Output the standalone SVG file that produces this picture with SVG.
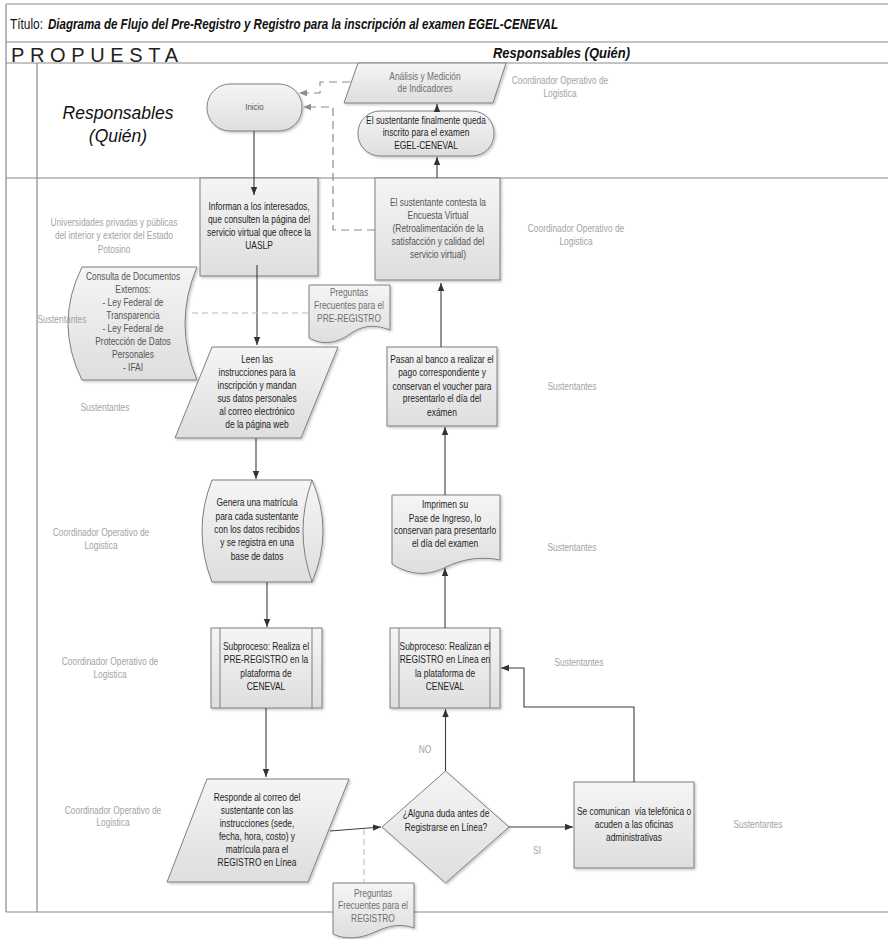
<svg xmlns="http://www.w3.org/2000/svg" width="888" height="939" viewBox="0 0 888 939">
<style>
  text{font-family:"Liberation Sans",Arial,sans-serif;font-size:10px;text-anchor:middle}
  .frame{stroke:#8a8a8a;stroke-width:1.2;fill:none}
  .shape{fill:url(#gf);stroke:#7f7f7f;stroke-width:1;filter:url(#sh)}
  .inner{stroke:#7f7f7f;stroke-width:1;fill:none}
  .dk{fill:#1e1e1e}
  .md{fill:#555}
  .lt{fill:#6e6e6e}
  .lbl{fill:#a3a3a3}
  .con{fill:none;stroke:#3d3d3d;stroke-width:1.1;marker-end:url(#ah)}
  .dsh{fill:none;stroke:#8c8c8c;stroke-width:1.2;stroke-dasharray:8 5;marker-end:url(#ahg)}
  .ldsh{fill:none;stroke:#b8b8b8;stroke-width:1;stroke-dasharray:6 4}
</style>
<defs>
  <linearGradient id="gf" x1="0" y1="0" x2="0" y2="1">
    <stop offset="0" stop-color="#f5f5f5"/>
    <stop offset="1" stop-color="#dedede"/>
  </linearGradient>
  <filter id="sh" x="-10%" y="-10%" width="130%" height="130%">
    <feDropShadow dx="1.5" dy="1.5" stdDeviation="1" flood-color="#000" flood-opacity="0.22"/>
  </filter>
  <marker id="ah" viewBox="0 0 10 10" refX="10" refY="5" markerWidth="8" markerHeight="8" markerUnits="userSpaceOnUse" orient="auto">
    <path d="M0,1 L10,5 L0,9 Z" fill="#333"/>
  </marker>
  <marker id="ahg" viewBox="0 0 10 10" refX="10" refY="5" markerWidth="8" markerHeight="8" markerUnits="userSpaceOnUse" orient="auto">
    <path d="M0,1 L10,5 L0,9 Z" fill="#8c8c8c"/>
  </marker>
</defs>
<rect width="888" height="939" fill="#fff"/>

<!-- frame / swimlanes -->
<g id="frame">
  <path class="frame" d="M6,4 H888 M6,4 V912 M6,42 H888 M6,63 H888 M37,63 V912 M6,178 H888 M6,912 H888"/>
  <text x="10" y="29" textLength="33" lengthAdjust="spacingAndGlyphs" style="text-anchor:start;font-size:14px" fill="#111">Título:</text>
  <text x="48" y="29" textLength="510" lengthAdjust="spacingAndGlyphs" style="text-anchor:start;font-size:14px;font-weight:bold;font-style:italic" fill="#111">Diagrama de Flujo del Pre-Registro y Registro para la inscripción al examen EGEL-CENEVAL</text>
  <text x="11" y="62" textLength="167" lengthAdjust="spacing" style="text-anchor:start;font-size:20px" fill="#222">PROPUESTA</text>
  <text x="493" y="58" textLength="137" lengthAdjust="spacingAndGlyphs" style="text-anchor:start;font-size:14px;font-weight:bold;font-style:italic" fill="#111">Responsables (Quién)</text>
  <text x="118" y="119" style="font-size:17.5px;font-style:italic" fill="#111">Responsables</text>
  <text x="118" y="142" style="font-size:17.5px;font-style:italic" fill="#111">(Quién)</text>
</g>

<!-- lane labels -->
<g id="labels" class="lbl">
  <g transform="translate(560 0) scale(.84 1)"><text class="lbl"><tspan x="0" y="84.5">Coordinador Operativo de</tspan><tspan x="0" y="97.5">Logistica</tspan></text></g>
  <g transform="translate(576 0) scale(.84 1)"><text class="lbl"><tspan x="0" y="232.5">Coordinador Operativo de</tspan><tspan x="0" y="245.5">Logistica</tspan></text></g>
  <g transform="translate(114 0) scale(.84 1)"><text class="lbl"><tspan x="0" y="226.5">Universidades privadas y públicas</tspan><tspan x="0" y="239.5">del interior y exterior del Estado</tspan><tspan x="0" y="253.5">Potosino</tspan></text></g>
  <g transform="translate(105 0) scale(.84 1)"><text class="lbl"><tspan x="0" y="411.5">Sustentantes</tspan></text></g>
  <g transform="translate(572 0) scale(.84 1)"><text class="lbl"><tspan x="0" y="390.5">Sustentantes</tspan></text></g>
  <g transform="translate(101 0) scale(.84 1)"><text class="lbl"><tspan x="0" y="536.5">Coordinador Operativo de</tspan><tspan x="0" y="549.5">Logistica</tspan></text></g>
  <g transform="translate(572 0) scale(.84 1)"><text class="lbl"><tspan x="0" y="551.5">Sustentantes</tspan></text></g>
  <g transform="translate(110 0) scale(.84 1)"><text class="lbl"><tspan x="0" y="665.5">Coordinador Operativo de</tspan><tspan x="0" y="678.5">Logistica</tspan></text></g>
  <g transform="translate(579 0) scale(.84 1)"><text class="lbl"><tspan x="0" y="666.5">Sustentantes</tspan></text></g>
  <g transform="translate(113 0) scale(.84 1)"><text class="lbl"><tspan x="0" y="814.5">Coordinador Operativo de</tspan><tspan x="0" y="826.5">Logistica</tspan></text></g>
  <g transform="translate(758 0) scale(.84 1)"><text class="lbl"><tspan x="0" y="828.5">Sustentantes</tspan></text></g>
  <g transform="translate(425 0) scale(.84 1)"><text class="lbl"><tspan x="0" y="753.5">NO</tspan></text></g>
  <g transform="translate(537 0) scale(.84 1)"><text class="lbl"><tspan x="0" y="854.5">SI</tspan></text></g>
</g>

<!-- nodes -->
<g id="n-inicio">
  <rect class="shape" x="207" y="84" width="95" height="47" rx="23" ry="23"/>
  <g transform="translate(254.5 0) scale(.84 1)"><text class="md" style="font-size:9.5px"><tspan x="0" y="110.5">Inicio</tspan></text></g>
</g>
<g id="n-analisis">
  <polygon class="shape" points="358,63 506,63 493,103 344,103"/>
  <g transform="translate(425 0) scale(.84 1)"><text class="lt"><tspan x="0" y="80.5">Análisis y Medición</tspan><tspan x="0" y="92.5">de Indicadores</tspan></text></g>
</g>
<g id="n-inscrito">
  <rect class="shape" x="358" y="111" width="136" height="45" rx="22" ry="22"/>
  <g transform="translate(426 0) scale(.84 1)"><text class="dk"><tspan x="0" y="124.5">El sustentante finalmente queda</tspan><tspan x="0" y="136.5">inscrito para el examen</tspan><tspan x="0" y="149.5">EGEL-CENEVAL</tspan></text></g>
</g>
<g id="n-informan">
  <rect class="shape" x="200" y="178" width="118" height="98"/>
  <g transform="translate(259 0) scale(.84 1)"><text class="dk"><tspan x="0" y="210.5">Informan a los interesados,</tspan><tspan x="0" y="223.5">que consulten la página del</tspan><tspan x="0" y="236.5">servicio virtual que ofrece la</tspan><tspan x="0" y="249.5">UASLP</tspan></text></g>
</g>
<g id="n-encuesta">
  <rect class="shape" x="375" y="178" width="125" height="102"/>
  <g transform="translate(438 0) scale(.84 1)"><text class="md"><tspan x="0" y="206.5">El sustentante contesta la</tspan><tspan x="0" y="219.5">Encuesta Virtual</tspan><tspan x="0" y="232.5">(Retroalimentación de la</tspan><tspan x="0" y="245.5">satisfacción y calidad del</tspan><tspan x="0" y="258.5">servicio virtual)</tspan></text></g>
</g>
<g id="n-consulta">
  <path class="shape" d="M82,267 H197 Q173,323.5 197,380 H82 Q54,323.5 82,267 Z"/>
  <g transform="translate(133 0) scale(.84 1)"><text class="md"><tspan x="0" y="280.5">Consulta de Documentos</tspan><tspan x="0" y="293.5">Externos:</tspan><tspan x="0" y="306.5">- Ley Federal de</tspan><tspan x="0" y="319.5">Transparencia</tspan><tspan x="0" y="332.5">- Ley Federal de</tspan><tspan x="0" y="345.5">Protección de Datos</tspan><tspan x="0" y="358.5">Personales</tspan><tspan x="0" y="371.5">- IFAI</tspan></text></g>
  <g transform="translate(62 0) scale(.84 1)"><text class="lbl"><tspan x="0" y="323.5">Sustentantes</tspan></text></g>
</g>
<g id="n-preguntas-pre">
  <path class="shape" d="M309,285 H390 V330 C372,323 360,327 350,334 C336,344 322,345 309,338 Z"/>
  <g transform="translate(349 0) scale(.84 1)"><text class="lt"><tspan x="0" y="296.5">Preguntas</tspan><tspan x="0" y="309.5">Frecuentes para el</tspan><tspan x="0" y="322.5">PRE-REGISTRO</tspan></text></g>
</g>
<g id="n-leen">
  <polygon class="shape" points="212,347 338,347 301,438 175,438"/>
  <g transform="translate(257 0) scale(.84 1)"><text class="dk"><tspan x="0" y="363.5">Leen las</tspan><tspan x="0" y="376.5">instrucciones para la</tspan><tspan x="0" y="389.5">inscripción y mandan</tspan><tspan x="0" y="402.5">sus datos personales</tspan><tspan x="0" y="415.5">al correo electrónico</tspan><tspan x="0" y="428.5">de la página web</tspan></text></g>
</g>
<g id="n-pasan">
  <rect class="shape" x="387" y="347" width="110" height="79"/>
  <g transform="translate(442 0) scale(.84 1)"><text class="dk"><tspan x="0" y="363.5">Pasan al banco a realizar el</tspan><tspan x="0" y="376.5">pago correspondiente y</tspan><tspan x="0" y="390.5">conservan el voucher para</tspan><tspan x="0" y="402.5">presentarlo el día del</tspan><tspan x="0" y="416.5">exámen</tspan></text></g>
</g>
<g id="n-genera">
  <path class="shape" d="M212,480 H312 Q334,531 312,582 H212 Q192,531 212,480 Z"/>
  <path class="inner" d="M312,480 Q294,531 312,582"/>
  <g transform="translate(257 0) scale(.84 1)"><text class="dk"><tspan x="0" y="506.5">Genera una matrícula</tspan><tspan x="0" y="520.5">para cada sustentante</tspan><tspan x="0" y="533.5">con los datos recibidos</tspan><tspan x="0" y="546.5">y se registra en una</tspan><tspan x="0" y="560.5">base de datos</tspan></text></g>
</g>
<g id="n-imprimen">
  <path class="shape" d="M392,495 H500 V560 C482,556 462,559 446,567 C432,574 414,578 392,564 Z"/>
  <g transform="translate(445 0) scale(.84 1)"><text class="dk"><tspan x="0" y="508.5">Imprimen su</tspan><tspan x="0" y="522.5">Pase de Ingreso, lo</tspan><tspan x="0" y="534.5">conservan para presentarlo</tspan><tspan x="0" y="547.5">el día del examen</tspan></text></g>
</g>
<g id="n-sub-pre">
  <rect class="shape" x="211" y="628" width="111" height="80"/>
  <path class="inner" d="M220,628 V708 M312,628 V708"/>
  <g transform="translate(266 0) scale(.84 1)"><text class="dk"><tspan x="0" y="650.5">Subproceso: Realiza el</tspan><tspan x="0" y="663.5">PRE-REGISTRO en la</tspan><tspan x="0" y="677.5">plataforma de</tspan><tspan x="0" y="690.5">CENEVAL</tspan></text></g>
</g>
<g id="n-sub-reg">
  <rect class="shape" x="390" y="628" width="110" height="80"/>
  <path class="inner" d="M399,628 V708 M490,628 V708"/>
  <g transform="translate(445 0) scale(.84 1)"><text class="dk"><tspan x="0" y="650.5">Subproceso: Realizan el</tspan><tspan x="0" y="663.5">REGISTRO en Línea en</tspan><tspan x="0" y="677.5">la plataforma de</tspan><tspan x="0" y="690.5">CENEVAL</tspan></text></g>
</g>
<g id="n-responde">
  <polygon class="shape" points="207,779 349,779 308,882 167,882"/>
  <g transform="translate(257 0) scale(.84 1)"><text class="dk"><tspan x="0" y="801.5">Responde al correo del</tspan><tspan x="0" y="814.5">sustentante con las</tspan><tspan x="0" y="827.5">instrucciones (sede,</tspan><tspan x="0" y="840.5">fecha, hora, costo) y</tspan><tspan x="0" y="853.5">matrícula para el</tspan><tspan x="0" y="866.5">REGISTRO en Línea</tspan></text></g>
</g>
<g id="n-duda">
  <polygon class="shape" points="382,827 445.5,771 509,827 445.5,883"/>
  <g transform="translate(446 0) scale(.84 1)"><text class="dk"><tspan x="0" y="817.5">¿Alguna duda antes de</tspan><tspan x="0" y="831.5">Registrarse en Línea?</tspan></text></g>
</g>
<g id="n-comunican">
  <rect class="shape" x="574" y="782" width="120" height="86"/>
  <g transform="translate(634 0) scale(.84 1)"><text class="dk" xml:space="preserve"><tspan x="0" y="815.5">Se comunican  vía telefónica o</tspan><tspan x="0" y="828.5">acuden a las oficinas</tspan><tspan x="0" y="841.5">administrativas</tspan></text></g>
</g>
<g id="n-preguntas-reg">
  <path class="shape" d="M333,883 H414 V928 C400,923 388,926 375,932 C360,939 345,940 333,934 Z"/>
  <g transform="translate(373 0) scale(.84 1)"><text class="lt"><tspan x="0" y="897.5">Preguntas</tspan><tspan x="0" y="909.5">Frecuentes para el</tspan><tspan x="0" y="922.5">REGISTRO</tspan></text></g>
</g>

<!-- connectors -->
<g id="connectors">
  <path class="con" d="M254,131 V195"/>
  <path class="con" d="M257,265 V345"/>
  <path class="con" d="M256,438 V479"/>
  <path class="con" d="M267,582 V627"/>
  <path class="con" d="M266,708 V777"/>
  <path class="con" d="M330,831 L381,827"/>
  <path class="con" d="M445.5,771 V709"/>
  <path class="con" d="M509,827 H573"/>
  <path class="con" d="M634,782 V707 H524 V668 H501"/>
  <path class="con" d="M445,628 V568"/>
  <path class="con" d="M445,495 V427"/>
  <path class="con" d="M441,347 V283"/>
  <path class="con" d="M437,178 V157"/>
  <path class="con" d="M437,111 V104"/>
  <path class="dsh" d="M350,82 H320 V93 H299"/>
  <path class="dsh" d="M375,230 H333 V107 H303"/>
  <path class="ldsh" d="M192,313 H309"/>
  <path class="ldsh" d="M364,829 V883"/>
</g>
</svg>
